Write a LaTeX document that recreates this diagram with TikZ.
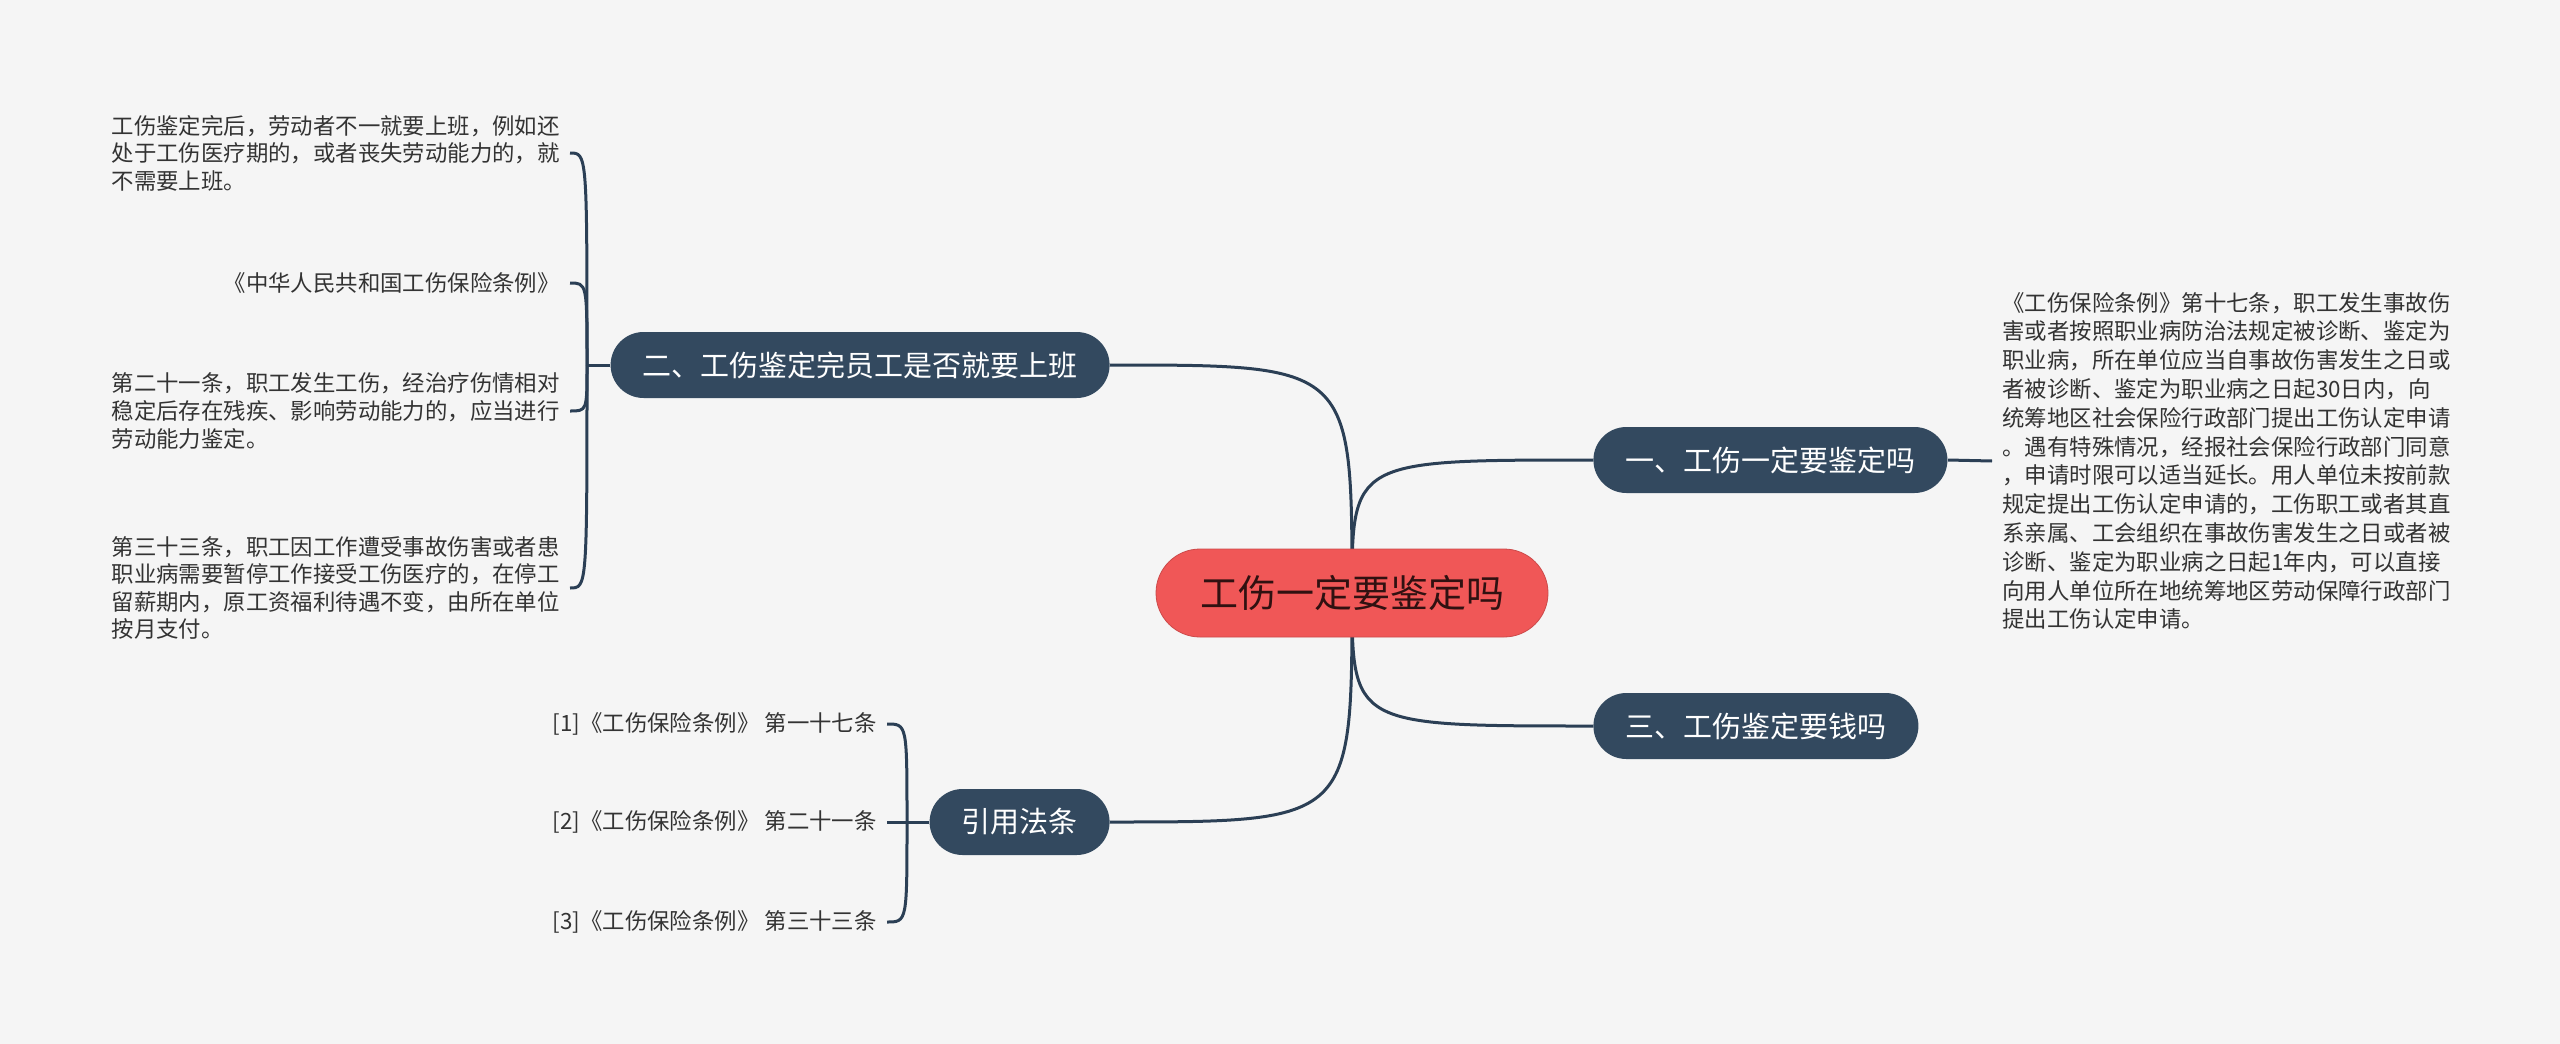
\documentclass[tikz,border=0pt]{standalone}
\usepackage{fontspec}
\setmainfont{Noto Sans CJK SC}
\usetikzlibrary{backgrounds}
\definecolor{bgfill}{HTML}{F5F5F5}
\definecolor{topicblue}{HTML}{33495F}
\definecolor{rootred}{HTML}{F05757}
\definecolor{linkblue}{HTML}{2B3F55}
\definecolor{leaftext}{HTML}{333333}

\begin{document}
\begin{tikzpicture}[x=0.5pt, y=-0.5pt,
  rootbox/.style={fill=rootred, draw=rootred!85!black, line width=0.4pt, rounded corners=22pt, minimum height=44pt, inner xsep=22pt, text=rootred!20!black, font=\fontsize{19pt}{23pt}\selectfont},
  topic/.style={fill=topicblue, rounded corners=16.5pt, minimum height=33pt, inner xsep=16pt, text=white, font=\fontsize{14.5pt}{17pt}\selectfont},
  leaf/.style={text=leaftext, align=left, inner xsep=5pt, font=\fontsize{11.2pt}{13.8pt}\selectfont},
  link/.style={draw=linkblue, line width=1.5pt}]
\useasboundingbox (0,0) rectangle (2560,1044);

\node[rootbox] (root) at (1352,593) {工伤一定要鉴定吗};
\node[topic, anchor=west] (b1) at (1593,460) {一、工伤一定要鉴定吗};
\node[topic, anchor=west] (b3) at (1593,726) {三、工伤鉴定要钱吗};
\node[topic, anchor=east] (b2) at (1110,365) {二、工伤鉴定完员工是否就要上班};
\node[topic, anchor=east] (b4) at (1110,822) {引用法条};

% right side text
\node[leaf, anchor=west, font=\fontsize{11.2pt}{14.4pt}\selectfont] (r1) at (1992,461) {《工伤保险条例》第十七条，职工发生事故伤\\害或者按照职业病防治法规定被诊断、鉴定为\\职业病，所在单位应当自事故伤害发生之日或\\者被诊断、鉴定为职业病之日起30日内，向\\统筹地区社会保险行政部门提出工伤认定申请\\。遇有特殊情况，经报社会保险行政部门同意\\，申请时限可以适当延长。用人单位未按前款\\规定提出工伤认定申请的，工伤职工或者其直\\系亲属、工会组织在事故伤害发生之日或者被\\诊断、鉴定为职业病之日起1年内，可以直接\\向用人单位所在地统筹地区劳动保障行政部门\\提出工伤认定申请。};

% left side texts
\node[leaf, anchor=east] (l1) at (570,153) {工伤鉴定完后，劳动者不一就要上班，例如还\\处于工伤医疗期的，或者丧失劳动能力的，就\\不需要上班。};
\node[leaf, anchor=east] (l2) at (570,283) {《中华人民共和国工伤保险条例》};
\node[leaf, anchor=east] (l3) at (570,411) {第二十一条，职工发生工伤，经治疗伤情相对\\稳定后存在残疾、影响劳动能力的，应当进行\\劳动能力鉴定。};
\node[leaf, anchor=east] (l4) at (570,588) {第三十三条，职工因工作遭受事故伤害或者患\\职业病需要暂停工作接受工伤医疗的，在停工\\留薪期内，原工资福利待遇不变，由所在单位\\按月支付。};

\node[leaf, anchor=east] (c1) at (887,724) {[1]《工伤保险条例》 第一十七条};
\node[leaf, anchor=east] (c2) at (887,822) {[2]《工伤保险条例》 第二十一条};
\node[leaf, anchor=east] (c3) at (887,922) {[3]《工伤保险条例》 第三十三条};

\begin{pgfonlayer}{background}
\fill[bgfill] (0,0) rectangle (2560,1044);
\foreach \t in {b1,b3} \draw[link] (root.center) .. controls (root.center |- \t.west) .. (\t.west);
\foreach \t in {b2,b4} \draw[link] (root.center) .. controls (root.center |- \t.east) .. (\t.east);
\draw[link] (b1.east) -- (r1.west);
\coordinate (j2) at (587,365);
\draw[link] (b2.west) -- (j2);
\foreach \n in {l1,l2,l3,l4} \draw[link] (j2) .. controls (j2 |- \n.east) .. (\n.east);
\coordinate (j4) at (907,822);
\draw[link] (b4.west) -- (j4);
\foreach \n in {c1,c2,c3} \draw[link] (j4) .. controls (j4 |- \n.east) .. (\n.east);
\end{pgfonlayer}
\end{tikzpicture}
\end{document}
